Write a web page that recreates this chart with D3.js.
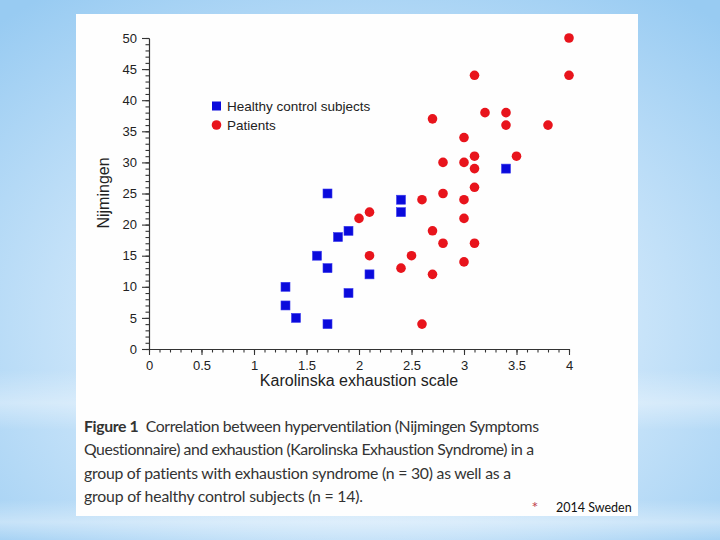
<!DOCTYPE html>
<html><head><meta charset="utf-8">
<script src="https://cdn.jsdelivr.net/npm/d3@7"></script>
<style>html,body{margin:0;padding:0;background:#fff;}svg{display:block;}</style>
</head><body>
<svg id="chart" width="720" height="540"></svg>
<script>
// ---- data ----
const healthyX = [1.7, 1.9, 1.8, 1.6, 1.7, 1.3, 1.9, 1.3, 1.4, 1.7, 2.4, 2.4, 2.1, 3.4];
const healthyY = [25, 19, 18, 15, 13, 10, 9, 7, 5, 4, 24, 22, 12, 29];
const patientsX = [4.0, 4.0, 3.1, 3.2, 3.4, 3.4, 3.8, 2.7, 3.0, 3.1, 3.5, 2.8, 3.0, 3.1, 3.1,
                   2.8, 2.6, 3.0, 2.1, 2.0, 3.0, 2.7, 2.8, 3.1, 2.1, 2.5, 2.4, 3.0, 2.7, 2.6];
const patientsY = [50, 44, 44, 38, 38, 36, 36, 37, 34, 31, 31, 30, 30, 29, 26,
                   25, 24, 24, 22, 21, 21, 19, 17, 17, 15, 15, 13, 14, 12, 4];
const xTicks = [0, 0.5, 1, 1.5, 2, 2.5, 3, 3.5, 4];
const yTicks = [0, 5, 10, 15, 20, 25, 30, 35, 40, 45, 50];
const seriesNames = ["Healthy control subjects", "Patients"];
const xTitle = "Karolinska exhaustion scale";
const yTitle = "Nijmingen";
const captionBold = "Figure 1";
const captionLines = [
  "Correlation between hyperventilation (Nijmingen Symptoms",
  "Questionnaire) and exhaustion (Karolinska Exhaustion Syndrome) in a",
  "group of patients with exhaustion syndrome (n = 30) as well as a",
  "group of healthy control subjects (n = 14)."
];
const footText = "2014 Sweden";

// ---- drawing ----
const svg = d3.select("#chart");
const defs = svg.append("defs");
const rg = defs.append("radialGradient").attr("id","bg")
  .attr("cx","50%").attr("cy","60%").attr("r","75%");
rg.append("stop").attr("offset","0%").attr("stop-color","#eef7fe");
rg.append("stop").attr("offset","45%").attr("stop-color","#cfe7fa");
rg.append("stop").attr("offset","100%").attr("stop-color","#98cbf2");
svg.append("rect").attr("width",720).attr("height",540).attr("fill","url(#bg)");
const lg = defs.append("linearGradient").attr("id","band").attr("x1",0).attr("y1",0).attr("x2",0).attr("y2",1);
lg.append("stop").attr("offset","0%").attr("stop-color","#ffffff").attr("stop-opacity",0);
lg.append("stop").attr("offset","55%").attr("stop-color","#ffffff").attr("stop-opacity",0.35);
lg.append("stop").attr("offset","100%").attr("stop-color","#ffffff").attr("stop-opacity",0);
svg.append("rect").attr("x",0).attr("y",370).attr("width",720).attr("height",60).attr("fill","url(#band)");
svg.append("rect").attr("x",0).attr("y",500).attr("width",720).attr("height",40).attr("fill","url(#band)");

// white panel
svg.append("rect").attr("x",76).attr("y",14).attr("width",562).attr("height",502).attr("fill","#fefefe");

const x = d3.scaleLinear().domain([0,4]).range([149,569]);
const y = d3.scaleLinear().domain([0,50]).range([349,38]);

const axisFont = "'Liberation Sans', Arial, sans-serif";

// y axis
const gy = svg.append("g").attr("transform","translate(149,0)");
gy.call(d3.axisLeft(y).tickValues(d3.range(0,51,1)).tickSize(3.5).tickSizeOuter(0).tickFormat(""));
const gyM = svg.append("g").attr("transform","translate(149,0)");
gyM.call(d3.axisLeft(y).tickValues(yTicks).tickSize(7).tickSizeOuter(0).tickPadding(5));
// x axis
const gx = svg.append("g").attr("transform","translate(0,349)");
gx.call(d3.axisBottom(x).tickValues(d3.range(0,40.5,1).map(d=>d/10)).tickSize(3.5).tickSizeOuter(0).tickFormat(""));
const gxM = svg.append("g").attr("transform","translate(0,349)");
gxM.call(d3.axisBottom(x).tickValues(xTicks).tickSize(6).tickSizeOuter(0).tickPadding(6).tickFormat(d3.format("")));
svg.selectAll(".domain, .tick line").attr("stroke","#333").attr("stroke-width",1.1);
svg.selectAll(".tick text").attr("font-family",axisFont).attr("font-size",13).attr("fill","#222");

// titles
svg.append("text").attr("x",359).attr("y",386).attr("text-anchor","middle")
  .attr("font-family",axisFont).attr("font-size",16).attr("fill","#222").text(xTitle);
svg.append("text").attr("transform","translate(109,193) rotate(-90)").attr("text-anchor","middle")
  .attr("font-family",axisFont).attr("font-size",16).attr("fill","#222").text(yTitle);

// points
const healthy = healthyX.map((d,i)=>({x:d,y:healthyY[i]}));
const patients = patientsX.map((d,i)=>({x:d,y:patientsY[i]}));
const sq = 9;
svg.append("g").selectAll("rect").data(healthy).join("rect")
  .attr("x",d=>x(d.x)-sq/2).attr("y",d=>y(d.y)-sq/2).attr("width",sq).attr("height",sq)
  .attr("fill","#0a0adc").attr("stroke","#3a3aee").attr("stroke-width",0.6);
svg.append("g").selectAll("circle").data(patients).join("circle")
  .attr("cx",d=>x(d.x)).attr("cy",d=>y(d.y)).attr("r",4.8).attr("fill","#e8141c");

// legend
const leg = svg.append("g");
leg.append("rect").attr("x",212).attr("y",101.5).attr("width",sq).attr("height",sq).attr("fill","#0a0adc");
leg.append("circle").attr("cx",216.5).attr("cy",125).attr("r",4.8).attr("fill","#e8141c");
leg.selectAll("text").data(seriesNames).join("text")
  .attr("x",227).attr("y",(d,i)=>111+i*19).attr("font-family",axisFont).attr("font-size",13.5).attr("fill","#222")
  .text(d=>d);

// caption
const capFont = "Lato, 'Open Sans', sans-serif";
const capWidths = [455, 450, 427, 279];
const cap = svg.append("g").style("font-variant-ligatures","none");
captionLines.forEach((line,i)=>{
  const t = cap.append("text").attr("x",84).attr("y",432+i*23.3)
    .attr("font-family",capFont).attr("font-size",15.8).attr("fill","#333")
    .attr("textLength",capWidths[i]).attr("lengthAdjust","spacing");
  if(i===0){
    t.append("tspan").attr("font-weight","bold").text(captionBold);
    t.append("tspan").text("\u2002"+line);
  } else t.text(line);
});
// footnote
svg.append("text").attr("x",535).attr("y",513).attr("text-anchor","middle").attr("font-family",capFont)
  .attr("font-size",16).attr("fill","#c0404c").text("*");
svg.append("text").attr("x",556).attr("y",512).attr("font-family",capFont).attr("font-size",12.5)
  .attr("fill","#111").text(footText);
</script>
</body></html>
